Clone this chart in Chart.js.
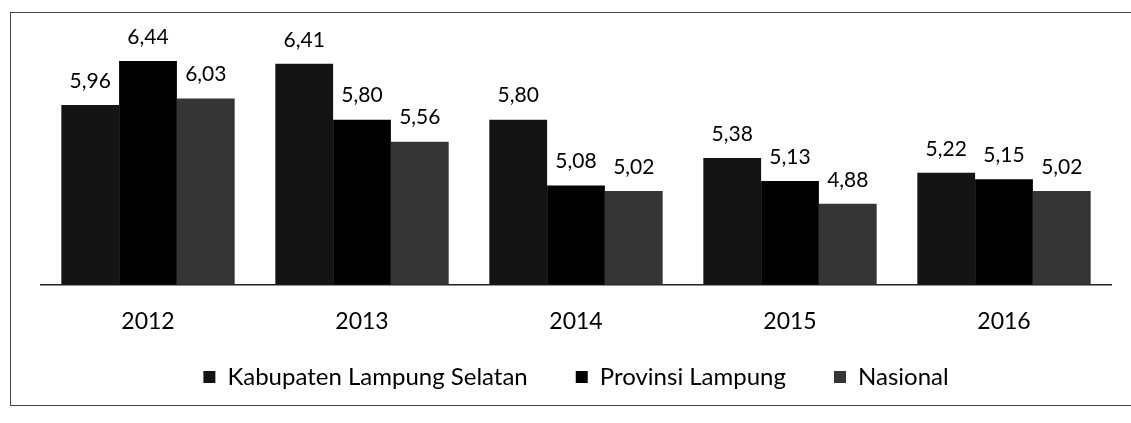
<!DOCTYPE html>
<html><head><meta charset="utf-8">
<script src="https://cdn.jsdelivr.net/npm/chart.js@4/dist/chart.umd.min.js"></script>
<style>
html,body{margin:0;padding:0;background:#fff;}
#wrap{position:relative;width:1131px;height:423px;}
#frame{position:absolute;left:10px;top:12px;width:1140px;height:394px;border:1px solid #444;box-sizing:border-box;}
canvas{position:absolute;left:0;top:0;}
</style></head>
<body><div id="wrap"><div id="frame"></div><canvas id="c" width="1131" height="423"></canvas></div>
<script>
const categories = ['2012','2013','2014','2015','2016'];
const kabupaten = [5.96, 6.41, 5.80, 5.38, 5.22];
const provinsi = [6.44, 5.80, 5.08, 5.13, 5.15];
const nasional = [6.03, 5.56, 5.02, 4.88, 5.02];
const seriesNames = ['Kabupaten Lampung Selatan','Provinsi Lampung','Nasional'];

const labelPlugin = {
  id:'vals',
  beforeInit(chart){
    const lg = chart.legend;
    if (lg) {
      const f = lg.fit.bind(lg);
      lg.fit = function(){ f(); this.height -= 23; };
    }
  },
  afterLayout(chart){
    if (chart.legend) { chart.legend.top -= 41; }
  },
  afterDatasetsDraw(chart){
    const ctx = chart.ctx;
    ctx.save();
    ctx.font = '21px Lato';
    ctx.fillStyle = '#000';
    ctx.textAlign = 'center';
    ctx.textBaseline = 'middle';
    chart.data.datasets.forEach((ds,i)=>{
      chart.getDatasetMeta(i).data.forEach((bar,j)=>{
        ctx.fillText(ds.data[j].toFixed(2).replace('.',','), bar.x, bar.y - 24);
      });
    });
    ctx.restore();
  }
};

new Chart(document.getElementById('c'), {
  type:'bar',
  data:{
    labels:categories,
    datasets:[
      {label:seriesNames[0], data:kabupaten, backgroundColor:'#141414'},
      {label:seriesNames[1], data:provinsi, backgroundColor:'#000000'},
      {label:seriesNames[2], data:nasional, backgroundColor:'#353535'}
    ]
  },
  options:{
    responsive:false,
    animation:false,
    layout:{padding:{left:41,right:20,top:19,bottom:6}},
    datasets:{bar:{categoryPercentage:0.81,barPercentage:1.0}},
    scales:{
      x:{grid:{display:false,drawTicks:false},border:{display:true,color:'#222',width:1.5},
         ticks:{color:'#000',font:{family:'Lato',size:23},padding:23}},
      y:{display:false,min:4.0,max:6.9}
    },
    plugins:{
      legend:{position:'bottom',labels:{color:'#000',font:{family:'Lato',size:24},boxWidth:12,boxHeight:12,padding:48}},
      tooltip:{enabled:false}
    }
  },
  plugins:[labelPlugin]
});
</script></body></html>
